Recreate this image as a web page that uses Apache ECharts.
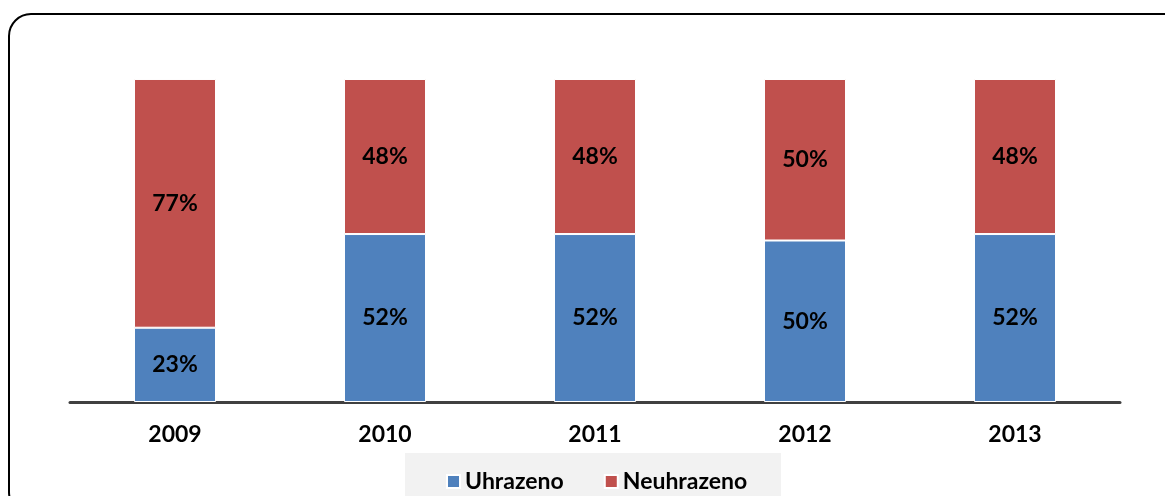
<!DOCTYPE html>
<html>
<head>
<meta charset="utf-8">
<script src="https://cdn.jsdelivr.net/npm/echarts@6/dist/echarts.min.js"></script>
<style>
  html, body { margin: 0; padding: 0; background: #fff; }
  #main { width: 1165px; height: 496px; }
</style>
</head>
<body>
<div id="main"></div>
<script>
// data
const years = ['2009', '2010', '2011', '2012', '2013'];
const paid = [23, 52, 52, 50, 52];     // Uhrazeno
const unpaid = [77, 48, 48, 50, 48];   // Neuhrazeno

const chart = echarts.init(document.getElementById('main'));

const font = 'Lato, "Open Sans", sans-serif';
const barLabel = {
  show: true,
  position: 'inside',
  formatter: '{c}%',
  color: '#000',
  fontFamily: font,
  fontWeight: 'bold',
  fontSize: 23
};

const option = {
  animation: false,
  textStyle: { fontFamily: font },
  graphic: [
    {
      type: 'rect',
      shape: { x: 9, y: 14, width: 1180, height: 500, r: 22 },
      style: { fill: 'none', stroke: '#000', lineWidth: 2 },
      z: -10
    },
    {
      type: 'rect',
      shape: { x: 405, y: 453, width: 376, height: 60 },
      style: { fill: '#f2f2f2' },
      z: -5
    }
  ],
  grid: { left: 70, right: 45, top: 79, bottom: 94 },
  legend: {
    left: 441,
    top: 465,
    itemWidth: 13,
    itemHeight: 13,
    itemGap: 40,
    icon: 'rect',
    textStyle: { fontFamily: font, fontWeight: 'bold', fontSize: 23, color: '#000' },
    data: ['Uhrazeno', 'Neuhrazeno']
  },
  xAxis: {
    type: 'category',
    data: years,
    axisLine: { lineStyle: { color: '#404040', width: 3 } },
    axisTick: { show: false },
    axisLabel: {
      margin: 21,
      color: '#000',
      fontFamily: font,
      fontWeight: 'bold',
      fontSize: 23
    }
  },
  yAxis: {
    type: 'value',
    min: 0,
    max: 100,
    show: false,
    splitLine: { show: false }
  },
  series: [
    {
      name: 'Uhrazeno',
      type: 'bar',
      stack: 'total',
      barWidth: 82,
      data: paid,
      itemStyle: { color: '#4f81bd', borderColor: '#fff', borderWidth: 1 },
      label: barLabel
    },
    {
      name: 'Neuhrazeno',
      type: 'bar',
      stack: 'total',
      barWidth: 82,
      data: unpaid,
      itemStyle: { color: '#c0504d', borderColor: '#fff', borderWidth: 1 },
      label: barLabel
    }
  ]
};

chart.setOption(option);
</script>
</body>
</html>
